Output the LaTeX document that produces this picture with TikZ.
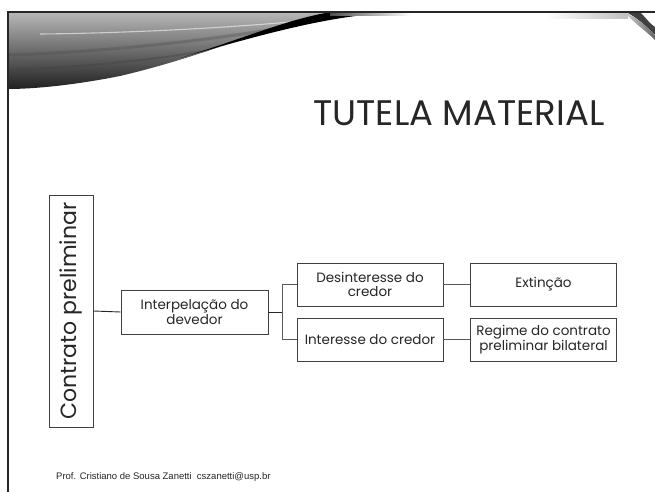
\documentclass[tikz,border=0pt]{standalone}
\usepackage{fontspec}
\setmainfont{Poppins}
\newfontfamily\footfont{Liberation Sans}
\begin{document}
\begin{tikzpicture}[x=1pt,y=-1pt,
  box/.style={draw=black!75, line width=0.8pt, align=center, inner sep=0pt,
    minimum width=146pt, minimum height=43pt, text=black!85,
    font=\fontsize{13.5}{14.5}\selectfont},
  conn/.style={draw=black!65, line width=0.9pt}]
\useasboundingbox (0,0) rectangle (655,492);
\fill[white] (0,0) rectangle (655,492);
% top-left swoosh
\begin{scope}
  \clip (8,12) -- (332,12) .. controls (280,22) and (210,55) .. (120,76)
        .. controls (70,86) and (30,89) .. (8,89) -- cycle;
  \shade[top color=black!28, bottom color=black!88] (8,12) rectangle (332,90);
  \draw[black!70, opacity=0.35, line width=3pt] (8,55) .. controls (100,52) and (200,42) .. (300,25);
  \draw[black!75, opacity=0.35, line width=2pt] (8,70) .. controls (100,66) and (180,58) .. (260,40);
\end{scope}
\draw[white, opacity=0.55, line width=1.1pt] (40,34) .. controls (100,33.5) and (200,30) .. (290,22);
\fill[black] (180,58) .. controls (240,40) and (290,18) .. (332,12) -- (400,12)
   .. controls (340,15) and (290,26) .. (180,58) -- cycle;
\shade[left color=black!70, right color=white] (330,12) rectangle (410,16);
% top-right curl
\shade[left color=white, right color=black!25] (545,12) rectangle (628,19);
\fill[black!75] (626,12) -- (640,12) .. controls (646,18) and (650,24) .. (655,27) -- (655,35)
   .. controls (645,25) and (636,17) .. (626,12) -- cycle;
\shade[left color=black!20, right color=black!60] (626,13) .. controls (636,17) and (645,25) .. (655,35) -- (655,40) .. controls (645,30) and (630,20) .. (626,13);
% frame
\draw[black!85, line width=1.8pt] (8,492) -- (8,12) -- (655,12);
% title
\node[text=black!85, font=\fontsize{35.5}{38}\selectfont] (title) at (459,113) {TUTELA MATERIAL};
% boxes
\node[box, rotate=90, minimum width=232pt, minimum height=44pt,
      font=\fontsize{22}{24}\selectfont] (contr) at (71,311) {Contrato preliminar};
\node[box, minimum width=147pt, minimum height=44pt] (interp) at (194.5,312) {Interpelação do\\devedor};
\node[box] (desint) at (370,284.5) {Desinteresse do\\credor};
\node[box] (inter) at (370,339.5) {Interesse do credor};
\node[box] (ext) at (543.5,284.5) {Extinção};
\node[box] (regime) at (543.5,339.5) {Regime do contrato\\preliminar bilateral};
% connectors
\draw[conn, draw=black!85] (contr.south) -- (interp.west);
\draw[conn, draw=black!85] (interp.east) -- ++(14,0) coordinate (br);
\draw[conn] (desint.west) -| (br) |- (inter.west);
\draw[conn] (desint.east) -- (ext.west);
\draw[conn] (inter.east) -- (regime.west);
% footer
\node[anchor=west, inner sep=0pt, font=\footfont\fontsize{9.5}{11}\selectfont, text=black!85] (foot) at (56,477)
  {Prof. Cristiano de Sousa Zanetti\ \ cszanetti@usp.br};
\end{tikzpicture}
\end{document}
